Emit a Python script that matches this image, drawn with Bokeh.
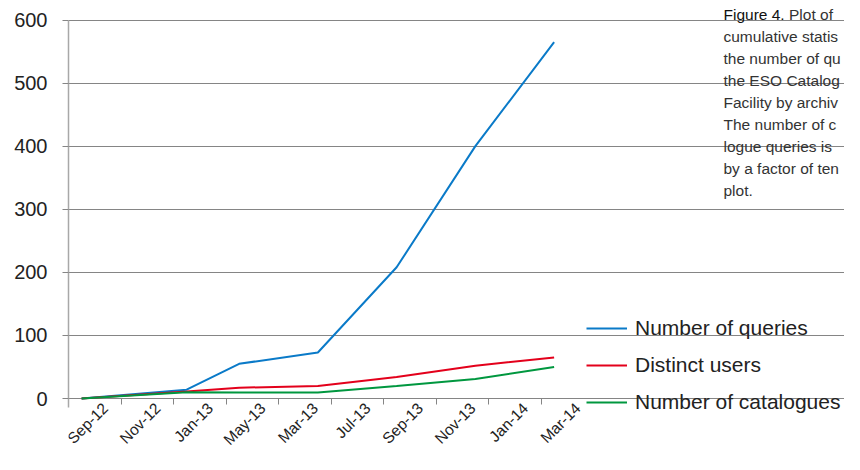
from math import pi
from bokeh.plotting import figure
from bokeh.models import FixedTicker, Legend, LegendItem, Label
from bokeh.embed import file_html
from bokeh.resources import INLINE

# ---- data ----
# months elapsed since the start of Sep-2012 for each observation
obs_month = [0.5, 4.5, 6.5, 9.5, 12.5, 15.5, 18.5]
number_of_queries = [0, 14, 55, 73, 208, 400, 565]
distinct_users = [0, 11, 17, 20, 34, 52, 65]
number_of_catalogues = [0, 10, 9.5, 9.5, 20, 31, 50]

tick_labels = ["Sep-12", "Nov-12", "Jan-13", "May-13", "Mar-13",
               "Jul-13", "Sep-13", "Nov-13", "Jan-14", "Mar-14"]
y_ticks = [0, 100, 200, 300, 400, 500, 600]

series_names = ["Number of queries", "Distinct users", "Number of catalogues"]
series_colors = ["#0a7ac8", "#e3001b", "#00973f"]

# caption column as visible in the (cropped) reference
caption_head = "Figure 4."
caption_first = "Plot of"
caption_lines = ["cumulative statis", "the number of qu",
                 "the ESO Catalog", "Facility by archiv",
                 "The number of c", "logue queries is",
                 "by a factor of ten", "plot."]

FONT = "Liberation Sans"

# ---- layout (pixels) ----
W, H = 844, 454
LEFT = 68            # y axis position
PX_PER_MONTH = 26.25
Y0_PX, Y600_PX = 398.0, 19.5
k = (Y0_PX - Y600_PX) / 600.0
y_top = 600 + Y600_PX / k
y_bot = -(H - Y0_PX) / k
x_end = (W - LEFT) / PX_PER_MONTH

p = figure(width=W, height=H, x_range=(0, x_end), y_range=(y_bot, y_top),
           output_backend="svg", toolbar_location=None,
           min_border_left=LEFT, min_border_right=0, min_border_top=0,
           min_border_bottom=0)
p.outline_line_color = None
p.background_fill_color = "white"
p.border_fill_color = "white"

# grid
p.xgrid.visible = False
p.ygrid.grid_line_color = "#858585"
p.ygrid.grid_line_width = 1
p.ygrid.bounds = (0, 19)

# y axis
p.yaxis.ticker = FixedTicker(ticks=y_ticks)
p.yaxis.bounds = (-14, 600)
p.yaxis.axis_line_color = "#a8a8a8"
p.yaxis.axis_line_width = 1.5
p.yaxis.major_tick_line_color = "#858585"
p.yaxis.major_tick_out = 6
p.yaxis.major_tick_in = 0
p.yaxis.minor_tick_line_color = None
p.yaxis.major_label_text_font = FONT
p.yaxis.major_label_text_font_size = "20px"
p.yaxis.major_label_text_color = "#222222"
p.yaxis.major_label_standoff = 15

# x axis: labels between the boundary ticks, drawn at y = 0
n = len(tick_labels)
label_pos = [2 * i + 1.4 for i in range(n)]
boundary_pos = [2 * i for i in range(n)]
p.xaxis.fixed_location = 0
p.xaxis.ticker = FixedTicker(ticks=label_pos, minor_ticks=boundary_pos)
p.xaxis.major_label_overrides = {pos: lab for pos, lab in zip(label_pos, tick_labels)}
p.xaxis.axis_line_color = None
p.xaxis.major_tick_line_color = None
p.xaxis.major_tick_out = 6
p.xaxis.major_tick_in = 0
p.xaxis.minor_tick_line_color = "#858585"
p.xaxis.minor_tick_out = 6
p.xaxis.minor_tick_in = 0
p.xaxis.major_label_orientation = pi / 4
p.xaxis.major_label_text_font = FONT
p.xaxis.major_label_text_font_size = "15.5px"
p.xaxis.major_label_text_color = "#222222"
p.xaxis.major_label_standoff = 1

renderers = []
for vals, col in zip([number_of_queries, distinct_users, number_of_catalogues], series_colors):
    r = p.line(obs_month, vals, line_color=col, line_width=2)
    renderers.append(r)

legend = Legend(items=[LegendItem(label=nm, renderers=[r]) for nm, r in zip(series_names, renderers)],
                location=(518, 40))
legend.background_fill_alpha = 0
legend.border_line_color = None
legend.padding = 0
legend.margin = 0
legend.spacing = 13
legend.glyph_width = 41
legend.glyph_height = 20
legend.label_standoff = 8
legend.label_text_font = FONT
legend.label_text_font_size = "21px"
legend.label_text_color = "#222222"
p.add_layout(legend)

# caption (frame-relative screen units; frame spans the full canvas height)
cap_x = 723 - LEFT
top0 = H - 5
step = 22
fs = "15.5px"
p.add_layout(Label(x=cap_x, y=top0, x_units="screen", y_units="screen", text=caption_head,
                   text_font=FONT, text_font_size=fs, text_color="#111111",
                   text_baseline="top"))
p.add_layout(Label(x=cap_x + 65.5, y=top0, x_units="screen", y_units="screen", text=caption_first,
                   text_font=FONT, text_font_size=fs, text_color="#333333",
                   text_baseline="top"))
for i, line in enumerate(caption_lines):
    p.add_layout(Label(x=cap_x, y=top0 - step * (i + 1), x_units="screen", y_units="screen",
                       text=line, text_font=FONT, text_font_size=fs,
                       text_color="#333333", text_baseline="top"))

open("out.html", "w").write(file_html(p, INLINE))
